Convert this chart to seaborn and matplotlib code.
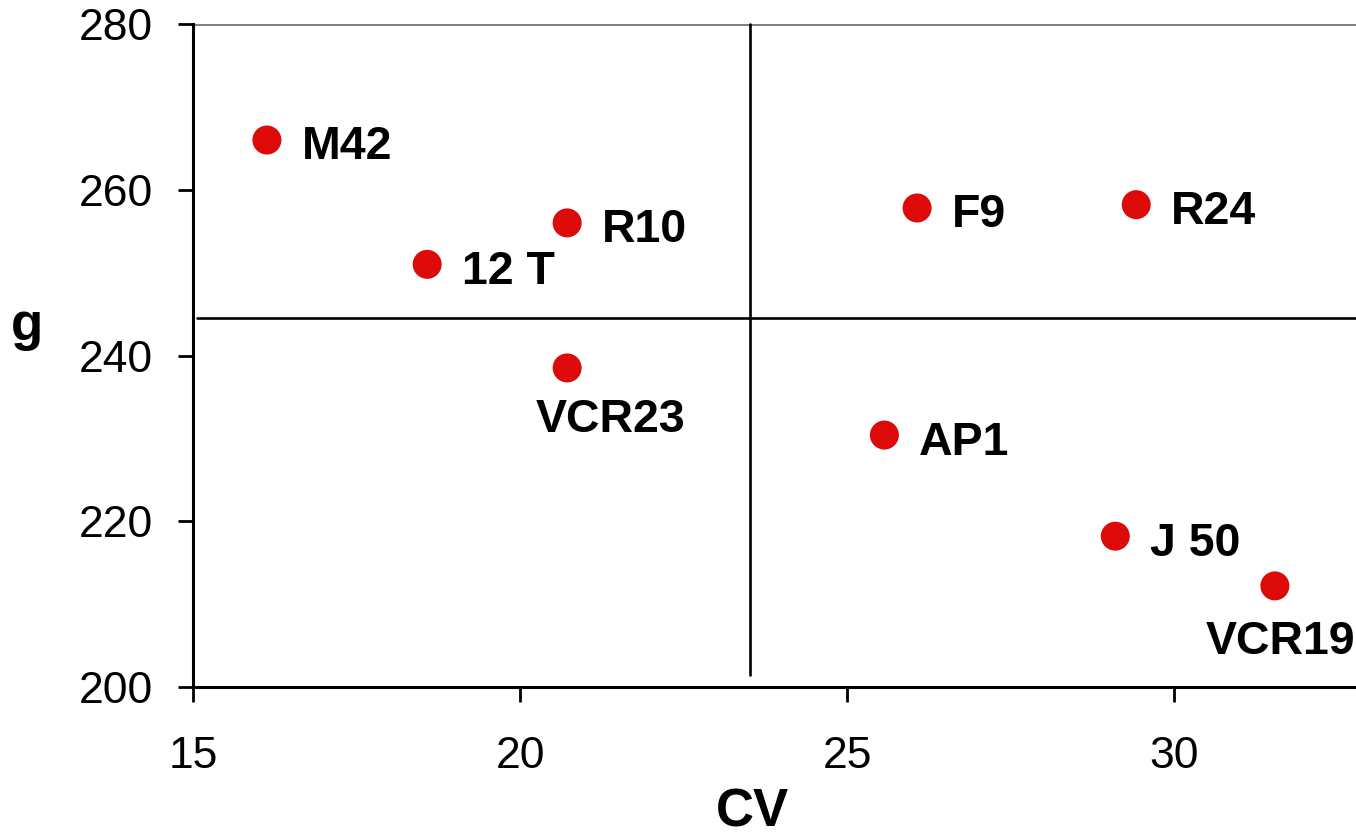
import matplotlib
matplotlib.use("Agg")
import matplotlib.pyplot as plt
import seaborn as sns
import pandas as pd

names = ["M42", "12 T", "R10", "VCR23", "F9", "R24", "AP1", "J 50", "VCR19"]
cv = [16.13, 18.58, 20.72, 20.72, 26.07, 29.42, 25.57, 29.10, 31.54]
g = [266.0, 251.0, 256.0, 238.5, 257.8, 258.2, 230.4, 218.2, 212.2]
cv_split = [23.52]
g_split = [244.5]
x_ticks = [15, 20, 25, 30]
y_ticks = [200, 220, 240, 260, 280]

df = pd.DataFrame({"CV": cv, "g": g, "name": names})

sns.set_style("white")
plt.rcParams["font.family"] = ["Liberation Sans", "DejaVu Sans"]
plt.rcParams["text.color"] = "black"
plt.rcParams["xtick.color"] = "black"
plt.rcParams["ytick.color"] = "black"
plt.rcParams["axes.labelcolor"] = "black"

fig = plt.figure(figsize=(13.56, 8.34), dpi=100)
ax = fig.add_axes([193/1356, 1-687/834, 1-193/1356, (687-24)/834])

sns.scatterplot(data=df, x="CV", y="g", ax=ax, color="#DD0A0A", s=436,
                edgecolor="none", zorder=5, clip_on=False)

ax.set_xlim(15, 32.78)
ax.set_ylim(200, 280)

# reference lines
ax.plot([cv_split[0], cv_split[0]], [201.5, 280], color="black", lw=1.9, zorder=2, clip_on=False)
ax.plot([15.06, 32.78], [g_split[0], g_split[0]], color="black", lw=1.9, zorder=2)
ax.axhline(280, color="#808080", lw=2.2, zorder=1)

offsets = {
    "VCR23": (-23, -46),
    "VCR19": (-50, -49),
}
for n, x, y in zip(names, cv, g):
    dx, dy = offsets.get(n, (25, -14))
    ax.annotate(n, (x, y), xytext=(dx, dy), textcoords="offset points",
                ha="left", va="baseline", fontsize=33.5, fontweight="bold",
                color="black", annotation_clip=False)

ax.set_xticks(x_ticks)
ax.set_yticks(y_ticks)
ax.tick_params(axis="both", labelsize=32, length=11, width=2, direction="out",
               bottom=True, left=True, colors="black")
ax.tick_params(axis="y", pad=18)
ax.tick_params(axis="x", pad=24)
for side in ["top", "right"]:
    ax.spines[side].set_visible(False)
for side in ["left", "bottom"]:
    ax.spines[side].set_color("black")
    ax.spines[side].set_linewidth(2.2)

ax.set_xlabel("CV", fontsize=38, fontweight="bold")
ax.set_ylabel("g", fontsize=38, fontweight="bold", rotation=0, ha="center", va="center")
ax.xaxis.set_label_coords(0.481, -0.152)
ax.yaxis.set_label_coords(-0.143, 0.545)

fig.savefig("out.png", dpi=100)
